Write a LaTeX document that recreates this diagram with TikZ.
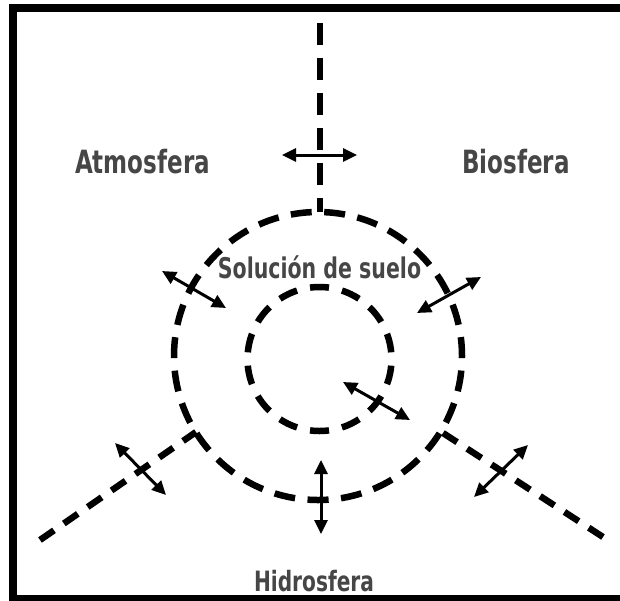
\documentclass[tikz,border=0pt]{standalone}
\usepackage{fontspec}
\newfontfamily\labfont{DejaVu Sans Bold}[FakeStretch=0.72]
\usetikzlibrary{arrows.meta}
\definecolor{labgray}{RGB}{70,70,70}
\tikzset{
  boundary/.style={line width=6.5pt, black},
  spoke/.style={line width=6.5pt, black, dash pattern=on 22pt off 13pt},
  exchange/.style={line width=3pt, black, {Triangle[length=14pt,width=13pt]}-{Triangle[length=14pt,width=13pt]}},
  sphere/.style={font=\labfont, text=labgray, inner sep=0pt, anchor=base},
}
\begin{document}
\begin{tikzpicture}[x=1pt,y=-1pt]
\useasboundingbox (0,0) rectangle (620,600);
% frame (right edge cut off)
\draw[line width=8pt] (640,8) -- (13,8) -- (13,599) -- (640,599);

% centres
\coordinate (c) at (318,356);
\coordinate (ci) at (319.5,359);

% outer circle: 27 dashes, one centred on top
\pgfmathsetmacro{\Ro}{144}
\pgfmathsetmacro{\Po}{2*pi*\Ro/27}
\draw[boundary, dash pattern=on 21pt off {\Po-21}pt, dash phase=10.5pt]
  (c) ++(90:\Ro) arc[start angle=90, end angle=450, radius=\Ro];
% inner circle: 14 dashes
\pgfmathsetmacro{\Ri}{72}
\pgfmathsetmacro{\Pi}{2*pi*\Ri/14}
\draw[boundary, dash pattern=on 19pt off {\Pi-19}pt, dash phase=9.5pt]
  (ci) ++(90:\Ri) arc[start angle=90, end angle=450, radius=\Ri];

% spokes
\coordinate (topend) at (320,23);
\coordinate (topjoin) at (320,212);
\coordinate (llend) at (40,540);
\coordinate (lljoin) at (196,432);
\coordinate (lrend) at (603,537);
\coordinate (lrjoin) at (443,433);
\draw[spoke] (topend) -- (topjoin);
\draw[boundary, dash pattern=on 17pt off 12pt] (llend) -- (lljoin);
\draw[boundary, dash pattern=on 17pt off 12pt] (lrend) -- (lrjoin);

% exchange arrows
\coordinate (a1) at (282,155); \coordinate (b1) at (357,155);
\coordinate (a2) at (162,271); \coordinate (b2) at (226,308);
\coordinate (a3) at (481,277); \coordinate (b3) at (417,313);
\coordinate (a4) at (343,382); \coordinate (b4) at (410,420);
\coordinate (a5) at (321,460); \coordinate (b5) at (321,534);
\coordinate (a6) at (115,443); \coordinate (b6) at (166,495);
\coordinate (a7) at (528,445); \coordinate (b7) at (474,497);
\draw[exchange] (a1) -- (b1);
\draw[exchange] (a2) -- (b2);
\draw[exchange] (a3) -- (b3);
\draw[exchange] (a4) -- (b4);
\draw[exchange] (a5) -- (b5);
\draw[exchange] (a6) -- (b6);
\draw[exchange] (a7) -- (b7);

% labels
\node[sphere, font=\labfont\fontsize{32}{33}\selectfont] (atm) at (142.5,173) {Atmosfera};
\node[sphere, font=\labfont\fontsize{32}{33}\selectfont] (bio) at (516,173) {Biosfera};
\node[sphere, font=\labfont\fontsize{28.5}{29}\selectfont] (sol) at (319.5,278) {Solución de suelo};
\node[sphere, font=\labfont\fontsize{28}{29}\selectfont] (hid) at (314,591) {Hidrosfera};
\end{tikzpicture}
\end{document}
